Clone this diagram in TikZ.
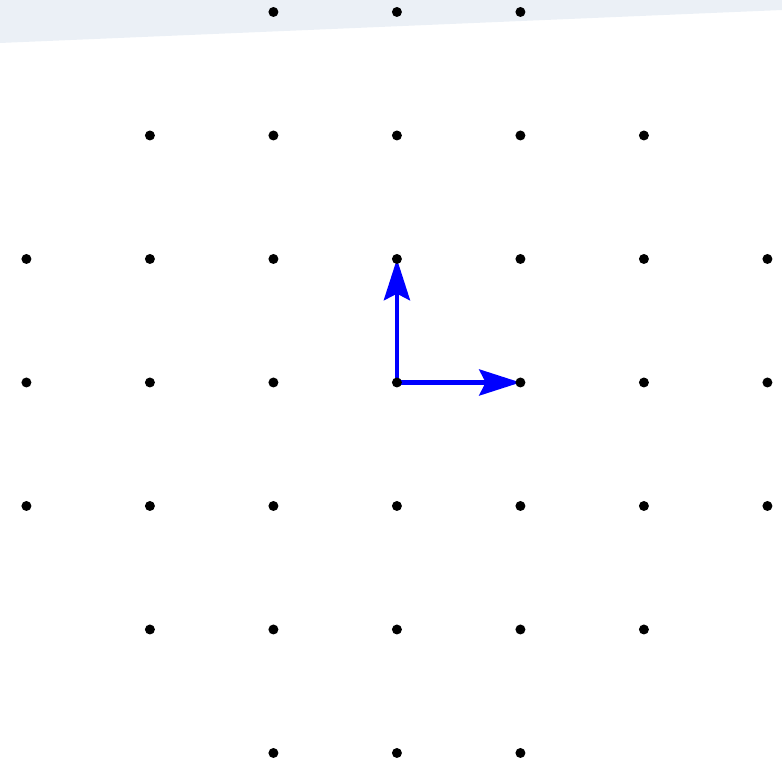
\documentclass[tikz,border=0pt]{standalone}
\usepackage{xcolor}
\usepackage{tikz}
\usetikzlibrary{arrows.meta, backgrounds}
\definecolor{basisblue}{HTML}{0000FF}
\definecolor{bandgray}{HTML}{EBF0F6}

\begin{document}
\begin{tikzpicture}[x=2cm, y=2cm,
    latpt/.style={circle, fill=black, inner sep=0pt, minimum size=4.6pt},
    basisvec/.style={-{Stealth[length=19pt, width=12pt, inset=3pt]}, basisblue, line width=2.1pt}]
  \useasboundingbox (-3.214,-3.097) rectangle (3.118,3.097);
  % lattice points with i^2+j^2 <= 10
  \foreach \i in {-3,...,3} {
    \foreach \j in {-3,...,3} {
      \pgfmathtruncatemacro{\rr}{\i*\i+\j*\j}
      \ifnum\rr<11
        \node[latpt] (p\i\j) at (\i,\j) {};
      \fi
    }
  }
  \begin{scope}[on background layer]
    \fill[bandgray] (-3.214,3.097) -- (3.118,3.097) -- (3.118,3.016) -- (-3.214,2.749) -- cycle;
    \draw[basisvec] (p00.center) -- (p10.center);
    \draw[basisvec] (p00.center) -- (p01.center);
  \end{scope}
\end{tikzpicture}
\end{document}
